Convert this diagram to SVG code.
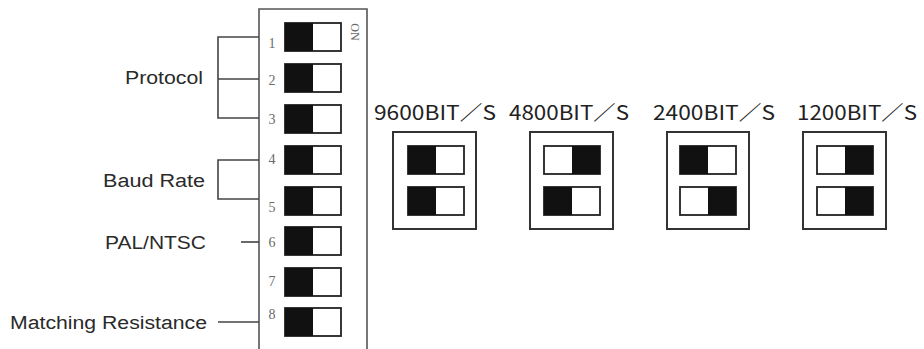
<svg xmlns="http://www.w3.org/2000/svg" width="924" height="349" viewBox="0 0 924 349">
<style>
.lbl{font-family:"Liberation Sans",Arial,sans-serif;font-size:18px;fill:#2a2a2a}
.num{font-family:"Liberation Serif","Times New Roman",serif;font-size:14px;fill:#6a6a6a}
.rate{font-family:"Noto Sans CJK KR","Liberation Sans",sans-serif;font-size:20px;fill:#222}
.sw{fill:#fff;stroke:#222;stroke-width:1.8}
.blk{fill:#111}
.box{fill:#fff;stroke:#333;stroke-width:2}
.ln{fill:none;stroke:#444;stroke-width:1.6}
</style>
<defs>
<g id="swL"><rect class="sw" x="0" y="0" width="56" height="28"/><rect class="blk" x="0" y="0" width="28" height="28"/></g>
<g id="swR"><rect class="sw" x="0" y="0" width="56" height="28"/><rect class="blk" x="28" y="0" width="28" height="28"/></g>
</defs>
<rect width="924" height="349" fill="#fff"/>
<g id="panel">
<path d="M259,352 V9 H367 V352" fill="none" stroke="#555" stroke-width="1.6"/>
<text x="355" y="32" class="num" transform="rotate(90 355 32)" text-anchor="middle" dominant-baseline="central" style="font-size:12px">ON</text>
</g>
<g id="switches">
<use href="#swL" x="285" y="23"/>
<use href="#swL" x="285" y="64"/>
<use href="#swL" x="285" y="105"/>
<use href="#swL" x="285" y="146"/>
<use href="#swL" x="285" y="187"/>
<use href="#swL" x="285" y="227"/>
<use href="#swL" x="285" y="268"/>
<use href="#swL" x="285" y="308"/>
<text class="num" x="272" y="48" text-anchor="middle">1</text>
<text class="num" x="272" y="85" text-anchor="middle">2</text>
<text class="num" x="272" y="124" text-anchor="middle">3</text>
<text class="num" x="272" y="164" text-anchor="middle">4</text>
<text class="num" x="272" y="212" text-anchor="middle">5</text>
<text class="num" x="272" y="247" text-anchor="middle">6</text>
<text class="num" x="272" y="286" text-anchor="middle">7</text>
<text class="num" x="272" y="319" text-anchor="middle">8</text>
</g>
<g id="labels">
<text class="lbl" x="203" y="84" text-anchor="end" textLength="78" lengthAdjust="spacingAndGlyphs">Protocol</text>
<text class="lbl" x="205" y="187" text-anchor="end" textLength="102" lengthAdjust="spacingAndGlyphs">Baud Rate</text>
<text class="lbl" x="206" y="249" text-anchor="end" textLength="101" lengthAdjust="spacingAndGlyphs">PAL/NTSC</text>
<text class="lbl" x="207" y="329" text-anchor="end" textLength="197" lengthAdjust="spacingAndGlyphs">Matching Resistance</text>
</g>
<g id="connectors">
<path class="ln" d="M259,37 H218 V118 H259 M218,79 H259"/>
<path class="ln" d="M259,160 H218 V199 H259"/>
<path class="ln" d="M241,242 H259"/>
<path class="ln" d="M218,322 H259"/>
</g>
<g id="rate9600">
<text class="rate" x="374" y="120" textLength="122" lengthAdjust="spacingAndGlyphs">9600BIT／S</text>
<rect class="box" x="393" y="132" width="83" height="97"/>
<use href="#swL" x="408" y="146"/>
<use href="#swL" x="408" y="187"/>
</g>
<g id="rate4800">
<text class="rate" x="509" y="120" textLength="120" lengthAdjust="spacingAndGlyphs">4800BIT／S</text>
<rect class="box" x="530" y="132" width="83" height="97"/>
<use href="#swR" x="544" y="146"/>
<use href="#swL" x="544" y="187"/>
</g>
<g id="rate2400">
<text class="rate" x="653" y="120" textLength="122" lengthAdjust="spacingAndGlyphs">2400BIT／S</text>
<rect class="box" x="667" y="132" width="82" height="97"/>
<use href="#swL" x="680" y="146"/>
<use href="#swR" x="680" y="187"/>
</g>
<g id="rate1200">
<text class="rate" x="797" y="120" textLength="120" lengthAdjust="spacingAndGlyphs">1200BIT／S</text>
<rect class="box" x="803" y="132" width="83" height="97"/>
<use href="#swR" x="817" y="146"/>
<use href="#swR" x="817" y="187"/>
</g>
</svg>
